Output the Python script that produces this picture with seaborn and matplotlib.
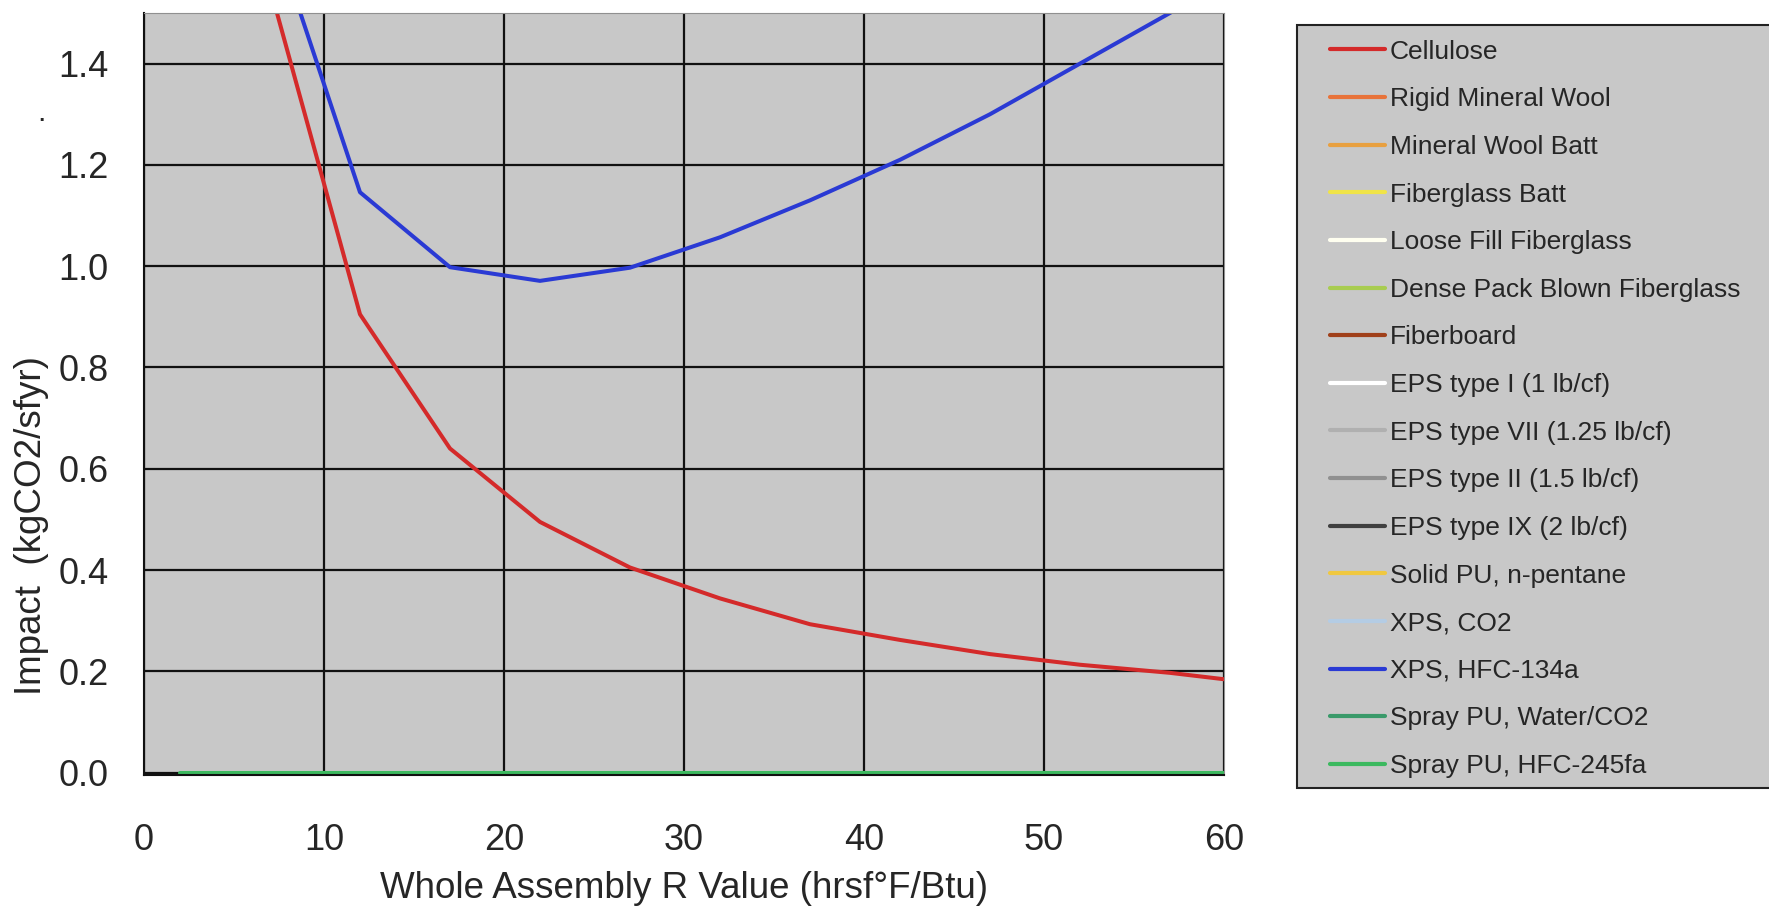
import pandas as pd
import matplotlib
matplotlib.use("Agg")
import matplotlib.pyplot as plt
import seaborn as sns
from matplotlib.lines import Line2D
from matplotlib.patches import Rectangle

# values
cellulose_r = [7, 12, 17, 22, 27, 32, 37, 42, 47, 52, 57, 62]
cellulose = [1.55, 0.905, 0.64, 0.495, 0.405, 0.344, 0.293, 0.262, 0.234, 0.213, 0.197, 0.176]

xps_134a_r = [7, 12, 17, 22, 27, 32, 37, 42, 47, 52, 57, 62]
xps_134a = [1.68, 1.146, 0.998, 0.971, 0.997, 1.057, 1.13, 1.21, 1.30, 1.40, 1.50, 1.61]

spray_245fa_r = [2, 7, 12, 17, 22, 27, 32, 37, 42, 47, 52, 57, 62]
spray_245fa = [0.0] * 13

materials = ["Cellulose", "Rigid Mineral Wool", "Mineral Wool Batt", "Fiberglass Batt",
             "Loose Fill Fiberglass", "Dense Pack Blown Fiberglass", "Fiberboard",
             "EPS type I (1 lb/cf)", "EPS type VII (1.25 lb/cf)", "EPS type II (1.5 lb/cf)",
             "EPS type IX (2 lb/cf)", "Solid PU, n-pentane", "XPS, CO2", "XPS, HFC-134a",
             "Spray PU, Water/CO2", "Spray PU, HFC-245fa"]
colors = ["#d42a2a", "#e8733a", "#e8a040", "#f0e448", "#fffff0", "#a8cc50", "#a0401a",
          "#ffffff", "#b0b0b0", "#909090", "#404040", "#f0c840", "#b4cce4", "#2a3ad4",
          "#3a9a6a", "#3cb95f"]
palette = dict(zip(materials, colors))

df = pd.concat([
    pd.DataFrame({"R": cellulose_r, "Impact": cellulose, "Material": "Cellulose"}),
    pd.DataFrame({"R": xps_134a_r, "Impact": xps_134a, "Material": "XPS, HFC-134a"}),
    pd.DataFrame({"R": spray_245fa_r, "Impact": spray_245fa, "Material": "Spray PU, HFC-245fa"}),
])

sns.set_style("white")
plt.rcParams["font.family"] = ["Liberation Sans", "DejaVu Sans"]

fig = plt.figure(figsize=(17.69, 9.13), dpi=100)
ax = fig.add_axes([0.0814, 0.151, 0.6105, 0.8348])
ax.set_facecolor("#c8c8c8")

sns.lineplot(data=df, x="R", y="Impact", hue="Material", palette=palette,
             hue_order=["Cellulose", "XPS, HFC-134a", "Spray PU, HFC-245fa"],
             linewidth=2.9, legend=False, ax=ax, sort=False)

ax.set_xlim(0, 60)
ax.set_ylim(-0.005, 1.5)
ax.set_xticks(range(0, 61, 10))
ax.set_yticks([0.0, 0.2, 0.4, 0.6, 0.8, 1.0, 1.2, 1.4])
ax.set_yticklabels(["0.0", "0.2", "0.4", "0.6", "0.8", "1.0", "1.2", "1.4"])
ax.grid(True, color="#111111", linewidth=1.6)
ax.set_axisbelow(True)
ax.tick_params(direction="out", length=8.5, width=1.5, color="#111111", labelsize=26)
ax.tick_params(axis="x", pad=26)
ax.tick_params(axis="y", pad=17)
for side in ["top", "right"]:
    ax.spines[side].set_color("#909090")
for side in ["left", "bottom"]:
    ax.spines[side].set_color("#111111")
    ax.spines[side].set_linewidth(1.5)

ax.set_xlabel("Whole Assembly R Value (hrsf°F/Btu)", fontsize=26.5, labelpad=9)
ax.set_ylabel("Impact  (kgCO2/sfyr)", fontsize=26.5)
ax.yaxis.set_label_coords(-0.088, 0.327)
fig.text(0.021, 0.867, ".", fontsize=22)

# legend box
fig.patches.append(Rectangle((0.7332, 0.137), 0.3, 0.8356, transform=fig.transFigure,
                             facecolor="#c8c8c8", edgecolor="#222222", linewidth=1.5))
handles = [Line2D([], [], color=c, linewidth=3) for c in colors]
fig.legend(handles, materials, loc="upper left", bbox_to_anchor=(0.7519, 0.9565),
           frameon=False, fontsize=19, labelspacing=0.895, handlelength=2.08,
           handletextpad=0.19, borderpad=0, borderaxespad=0)

fig.savefig("out.png", dpi=100)
